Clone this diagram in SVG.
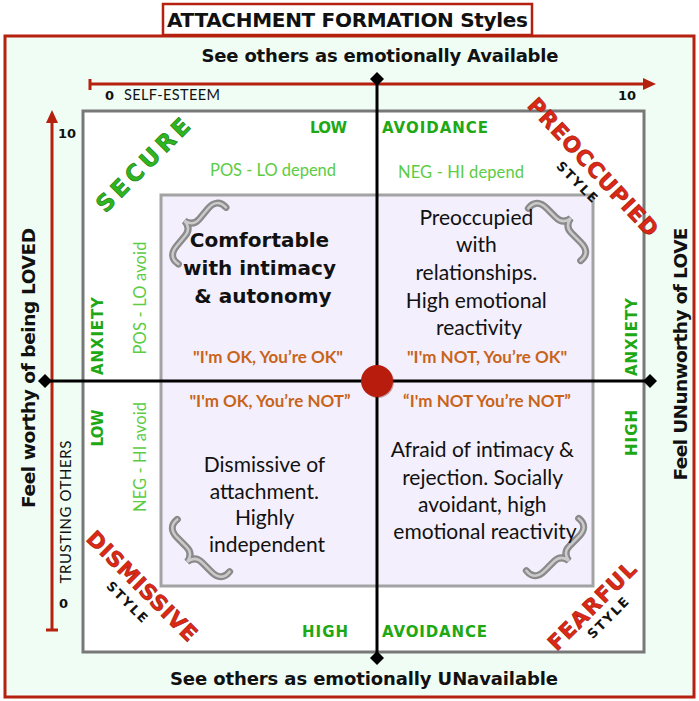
<svg xmlns="http://www.w3.org/2000/svg" width="699" height="701" viewBox="0 0 699 701">
<style>
.hb{font-family:"DejaVu Sans","Liberation Sans",sans-serif;font-weight:bold;}
.lt{font-family:Lato,"Liberation Sans",sans-serif;}
.blk{fill:#111;}
.grn{fill:#20a814;}
.lg{fill:#5ccc44;}
.org{fill:#c8641a;font-weight:bold;}
.red{fill:#dd2816;stroke:#9a180a;stroke-width:0.6;}
.sec{fill:#2fb61f;stroke:#17780d;stroke-width:0.6;}
.axis{stroke:#000;stroke-width:3;fill:none;}
.rl{stroke:#b5200f;stroke-width:3;fill:none;}
.q{font-size:21px;fill:#111;}
</style>
<defs>
<g id="brace">
<path d="M 12,-37 C 3,-38 -1,-33 -1,-24 L -1,-11 C -1,-5 -4,-1 -11,0 C -4,1 -1,5 -1,11 L -1,24 C -1,33 3,38 12,37" fill="none" stroke="#8a8a8a" stroke-width="7" stroke-linecap="round"/>
<path d="M 12,-37 C 3,-38 -1,-33 -1,-24 L -1,-11 C -1,-5 -4,-1 -11,0 C -4,1 -1,5 -1,11 L -1,24 C -1,33 3,38 12,37" fill="none" stroke="#cbcbcb" stroke-width="2.5" stroke-linecap="round"/>
</g>
</defs>

<g id="frame">
<rect x="5" y="36" width="689" height="661" fill="#effdf4" stroke="#b5200f" stroke-width="3"/>
</g>
<g id="title">
<rect x="163" y="4" width="369" height="31" fill="#fff" stroke="#b5200f" stroke-width="2.5"/>
<text class="hb blk" x="347.5" y="27" font-size="20" text-anchor="middle" textLength="361">ATTACHMENT FORMATION Styles</text>
</g>

<g id="outer-box">
<rect x="83" y="111" width="561" height="541" fill="#fff" stroke="#787878" stroke-width="3"/>
</g>
<g id="inner-box">
<rect x="161" y="195" width="432" height="391" fill="#f3effc" stroke="#a3a3a3" stroke-width="3"/>
<use href="#brace" transform="translate(193,228) rotate(40)"/>
<use href="#brace" transform="translate(563,226) rotate(-45) scale(-1,1)"/>
<use href="#brace" transform="translate(195,554) rotate(-45)"/>
<use href="#brace" transform="translate(561,553) rotate(45) scale(-1,1)"/>
</g>

<g id="connectors">
<path class="rl" d="M 90,84 L 645,84 M 90,79 L 90,90"/>
<polygon points="656,84 643,78 643,90" fill="#b5200f"/>
<path class="rl" d="M 52,121 L 52,630 M 46,630 L 58,630"/>
<polygon points="52,110 46,123 58,123" fill="#b5200f"/>
<path class="axis" d="M 377,79 L 377,658 M 45,381 L 650,381"/>
<polygon points="377,72 384,79 377,86 370,79" fill="#000"/>
<polygon points="377,651 384,658 377,665 370,658" fill="#000"/>
<polygon points="45,374 52,381 45,388 38,381" fill="#000"/>
<polygon points="650,374 657,381 650,388 643,381" fill="#000"/>
</g>

<g id="axis-labels">
<text class="hb blk" x="380" y="62" font-size="18" text-anchor="middle" textLength="357">See others as emotionally Available</text>
<text class="hb blk" x="364" y="685" font-size="18" text-anchor="middle" textLength="388">See others as emotionally UNavailable</text>
<text class="hb blk" transform="translate(35,368) rotate(-90)" font-size="18.5" text-anchor="middle" textLength="280">Feel worthy of being LOVED</text>
<text class="hb blk" transform="translate(687,354) rotate(-90)" font-size="18.5" text-anchor="middle" textLength="253">Feel UNunworthy of LOVE</text>
<text class="hb blk" x="105" y="100" font-size="13">0</text>
<text class="lt blk" x="124" y="100" font-size="14.5" textLength="96">SELF-ESTEEM</text>
<text class="hb blk" x="618" y="100" font-size="13">10</text>
<text class="hb blk" x="58" y="138" font-size="13">10</text>
<text class="hb blk" x="59" y="608" font-size="13">0</text>
<text class="lt blk" transform="translate(71,512) rotate(-90)" font-size="15" text-anchor="middle" textLength="143">TRUSTING OTHERS</text>
</g>

<g id="scale-labels">
<text class="hb grn" x="310" y="133" font-size="15" textLength="37">LOW</text>
<text class="hb grn" x="382" y="133" font-size="15" textLength="106">AVOIDANCE</text>
<text class="hb grn" x="302" y="637" font-size="15" textLength="46">HIGH</text>
<text class="hb grn" x="382" y="637" font-size="15" textLength="105">AVOIDANCE</text>
<text class="hb grn" transform="translate(103,336) rotate(-90)" font-size="15" text-anchor="middle" textLength="78">ANXIETY</text>
<text class="hb grn" transform="translate(103,428) rotate(-90)" font-size="15" text-anchor="middle" textLength="37">LOW</text>
<text class="hb grn" transform="translate(637,337) rotate(-90)" font-size="15" text-anchor="middle" textLength="78">ANXIETY</text>
<text class="hb grn" transform="translate(637,433) rotate(-90)" font-size="15" text-anchor="middle" textLength="46">HIGH</text>
<text class="lt lg" x="273" y="176" font-size="16.5" text-anchor="middle" textLength="126">POS - LO depend</text>
<text class="lt lg" x="461" y="178" font-size="16.5" text-anchor="middle" textLength="126">NEG - HI depend</text>
<text class="lt lg" transform="translate(146,298) rotate(-90)" font-size="16.5" text-anchor="middle" textLength="113">POS - LO avoid</text>
<text class="lt lg" transform="translate(146,457) rotate(-90)" font-size="16.5" text-anchor="middle" textLength="110">NEG - HI avoid</text>
</g>

<g id="style-names">
<text class="hb sec" transform="translate(143,165) rotate(-45)" y="8" font-size="23" text-anchor="middle" textLength="122">SECURE</text>
<text class="hb red" transform="translate(593,167) rotate(47)" y="7.5" font-size="21.5" text-anchor="middle" textLength="180">PREOCCUPIED</text>
<text class="hb red" transform="translate(142,586) rotate(45)" y="7.5" font-size="21.5" text-anchor="middle" textLength="146">DISMISSIVE</text>
<text class="hb red" transform="translate(592,606) rotate(-45)" y="7.5" font-size="21.5" text-anchor="middle" textLength="115">FEARFUL</text>
<text class="hb blk" transform="translate(577,182) rotate(45)" y="4.5" font-size="13" text-anchor="middle" textLength="52">STYLE</text>
<text class="hb blk" transform="translate(127,602) rotate(45)" y="4.5" font-size="13" text-anchor="middle" textLength="52">STYLE</text>
<text class="hb blk" transform="translate(608,618) rotate(-45)" y="4.5" font-size="13" text-anchor="middle" textLength="52">STYLE</text>
</g>

<g id="secure-quadrant">
<text class="hb blk" font-size="20" text-anchor="middle">
<tspan x="263" y="247">Comfortable</tspan>
<tspan x="263" y="275">with intimacy</tspan>
<tspan x="263" y="303">&amp; autonomy</tspan>
</text>
<text class="lt org" x="268" y="363" font-size="17" text-anchor="middle">"I'm OK, You’re OK"</text>
</g>
<g id="preoccupied-quadrant">
<text class="lt q" text-anchor="middle">
<tspan x="479" y="225">Preoccupied</tspan>
<tspan x="479" y="252">with</tspan>
<tspan x="479" y="280">relationships.</tspan>
<tspan x="479" y="308">High emotional</tspan>
<tspan x="479" y="335">reactivity</tspan>
</text>
<text class="lt org" x="487" y="363" font-size="17" text-anchor="middle">"I'm NOT, You’re OK"</text>
</g>
<g id="dismissive-quadrant">
<text class="lt org" x="270" y="407" font-size="17" text-anchor="middle">"I'm OK, You’re NOT”</text>
<text class="lt q" text-anchor="middle">
<tspan x="267" y="472">Dismissive of</tspan>
<tspan x="267" y="499">attachment.</tspan>
<tspan x="267" y="525">Highly</tspan>
<tspan x="267" y="552">independent</tspan>
</text>
</g>
<g id="fearful-quadrant">
<text class="lt org" x="487" y="407" font-size="17" text-anchor="middle">“I'm NOT You’re NOT”</text>
<text class="lt q" text-anchor="middle">
<tspan x="485" y="457">Afraid of intimacy &amp;</tspan>
<tspan x="485" y="485">rejection. Socially</tspan>
<tspan x="485" y="512">avoidant, high</tspan>
<tspan x="485" y="539">emotional reactivity</tspan>
</text>
</g>

<g id="center">
<circle cx="378" cy="382" r="16" fill="#7a1208" opacity="0.35"/>
<circle cx="377" cy="381" r="16" fill="#b71c0c"/>
</g>
</svg>
